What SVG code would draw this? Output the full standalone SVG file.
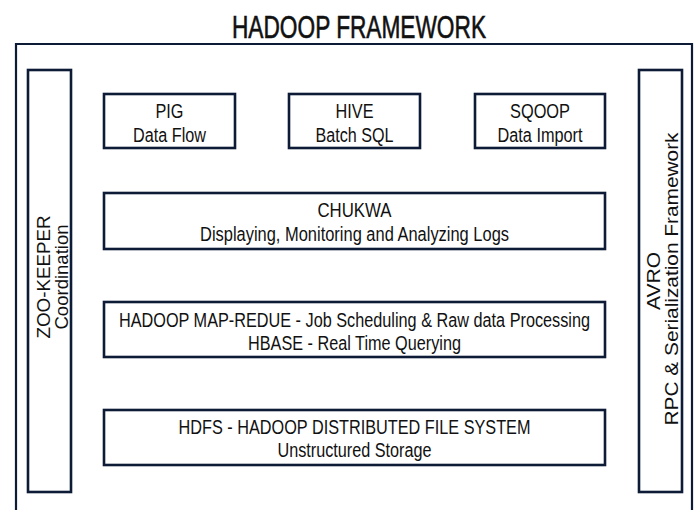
<svg xmlns="http://www.w3.org/2000/svg" width="699" height="510" viewBox="0 0 699 510">
  <style>
    .box { fill: #ffffff; stroke: #0d1b36; stroke-width: 2.6; }
    .frame { fill: none; stroke: #0d1b36; stroke-width: 2.2; }
    .lbl { font-family: "Liberation Sans", Arial, sans-serif; font-size: 20px; fill: #111111; text-anchor: middle; }
    .side { font-family: "Liberation Sans", Arial, sans-serif; font-size: 19px; fill: #111111; text-anchor: middle; }
    .title { font-family: "Liberation Sans", Arial, sans-serif; font-size: 31px; fill: #111111; stroke: #111111; stroke-width: 0.6; text-anchor: middle; }
  </style>
  <rect width="699" height="510" fill="#ffffff"/>

  <!-- heading and outer frame (open at the bottom) -->
  <text class="title" x="359" y="38" textLength="254" lengthAdjust="spacingAndGlyphs">HADOOP FRAMEWORK</text>
  <path class="frame" d="M16 512 V44 H692 V512"/>

  <!-- no connectors in this layered diagram -->
  <g id="connectors"/>

  <g id="zookeeper">
    <rect class="box" x="28" y="70" width="43" height="422"/>
    <text class="side" transform="translate(50 277) rotate(-90)" textLength="123" lengthAdjust="spacingAndGlyphs">ZOO-KEEPER</text>
    <text class="side" transform="translate(68 277) rotate(-90)" textLength="105" lengthAdjust="spacingAndGlyphs">Coordination</text>
  </g>

  <g id="avro">
    <rect class="box" x="639" y="70" width="43" height="422"/>
    <text class="side" transform="translate(660 281) rotate(-90)" textLength="58" lengthAdjust="spacingAndGlyphs">AVRO</text>
    <text class="side" transform="translate(678 279) rotate(-90)" textLength="293" lengthAdjust="spacingAndGlyphs">RPC &amp; Serialization Framework</text>
  </g>

  <g id="pig">
    <rect class="box" x="104" y="94" width="131" height="54"/>
    <text class="lbl" x="169.5" y="118" textLength="28" lengthAdjust="spacingAndGlyphs">PIG</text>
    <text class="lbl" x="169.5" y="141.5" textLength="73" lengthAdjust="spacingAndGlyphs">Data Flow</text>
  </g>

  <g id="hive">
    <rect class="box" x="289" y="94" width="131" height="54"/>
    <text class="lbl" x="354.5" y="118" textLength="38" lengthAdjust="spacingAndGlyphs">HIVE</text>
    <text class="lbl" x="354.5" y="141.5" textLength="78" lengthAdjust="spacingAndGlyphs">Batch SQL</text>
  </g>

  <g id="sqoop">
    <rect class="box" x="475" y="94" width="130" height="54"/>
    <text class="lbl" x="540" y="118" textLength="60" lengthAdjust="spacingAndGlyphs">SQOOP</text>
    <text class="lbl" x="540" y="141.5" textLength="85" lengthAdjust="spacingAndGlyphs">Data Import</text>
  </g>

  <g id="chukwa">
    <rect class="box" x="104" y="193" width="501" height="56"/>
    <text class="lbl" x="354.5" y="217" textLength="74" lengthAdjust="spacingAndGlyphs">CHUKWA</text>
    <text class="lbl" x="354.5" y="241" textLength="309" lengthAdjust="spacingAndGlyphs">Displaying, Monitoring and Analyzing Logs</text>
  </g>

  <g id="mapreduce">
    <rect class="box" x="104" y="302" width="501" height="55"/>
    <text class="lbl" x="354.5" y="327" textLength="471" lengthAdjust="spacingAndGlyphs">HADOOP MAP-REDUE - Job Scheduling &amp; Raw data Processing</text>
    <text class="lbl" x="354.5" y="350" textLength="213" lengthAdjust="spacingAndGlyphs">HBASE - Real Time Querying</text>
  </g>

  <g id="hdfs">
    <rect class="box" x="104" y="410" width="501" height="55"/>
    <text class="lbl" x="354.5" y="434" textLength="352" lengthAdjust="spacingAndGlyphs">HDFS - HADOOP DISTRIBUTED FILE SYSTEM</text>
    <text class="lbl" x="354.5" y="457" textLength="154" lengthAdjust="spacingAndGlyphs">Unstructured Storage</text>
  </g>
</svg>
